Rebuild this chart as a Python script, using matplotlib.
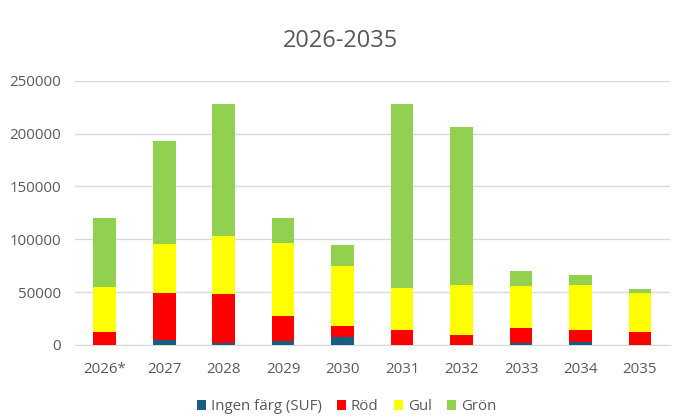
import matplotlib
matplotlib.use("Agg")
import matplotlib.pyplot as plt
import numpy as np

plt.rcParams['font.family'] = ['Open Sans', 'DejaVu Sans']

categories = ["2026*", "2027", "2028", "2029", "2030", "2031", "2032", "2033", "2034", "2035"]
ingen = [0, 5000, 1500, 3500, 7000, 0, 0, 2000, 3000, 0]
rod = [12500, 44000, 46500, 24000, 11000, 14500, 9500, 13500, 11500, 12000]
gul = [42500, 46500, 55000, 68500, 57000, 39000, 47500, 40000, 42000, 37500]
gron = [65000, 97500, 125500, 24000, 20000, 175000, 149500, 14500, 10000, 3500]

series = [("Ingen färg (SUF)", ingen, "#156082"),
          ("Röd", rod, "#FF0000"),
          ("Gul", gul, "#FFFF00"),
          ("Grön", gron, "#92D050")]

fig = plt.figure(figsize=(6.82, 4.17), dpi=100)
ax = fig.add_axes([0.110, 0.173, 0.872, 0.633])

x = np.arange(len(categories))
bottom = np.zeros(len(categories))
for name, vals, col in series:
    v = np.array(vals, dtype=float)
    ax.bar(x, v, 0.38, bottom=bottom, color=col, label=name, zorder=3)
    bottom += v

ax.set_xlim(-0.5, len(categories) - 0.5)
ax.set_ylim(0, 250000)
ax.set_yticks(np.arange(0, 250001, 50000))
ax.set_xticks(x)
ax.set_xticklabels(categories)
ax.grid(axis='y', color='#d9d9d9', linewidth=1, zorder=0)
for s in ['top', 'right', 'left']:
    ax.spines[s].set_visible(False)
ax.spines['bottom'].set_color('#d9d9d9')
ax.tick_params(axis='both', length=0, colors='#595959', labelsize=10.8)
ax.tick_params(axis='x', pad=12)
ax.tick_params(axis='y', pad=10)

fig.text(0.5, 0.902, "2026-2035", ha='center', va='center', fontsize=17, color='#595959')

fig.legend(loc='center', bbox_to_anchor=(0.508, 0.025), ncol=4, frameon=False,
           fontsize=10.8, handlelength=0.65, handleheight=0.65, handletextpad=0.3,
           columnspacing=1.0, labelcolor='#595959')

fig.savefig("out.png", dpi=100)
